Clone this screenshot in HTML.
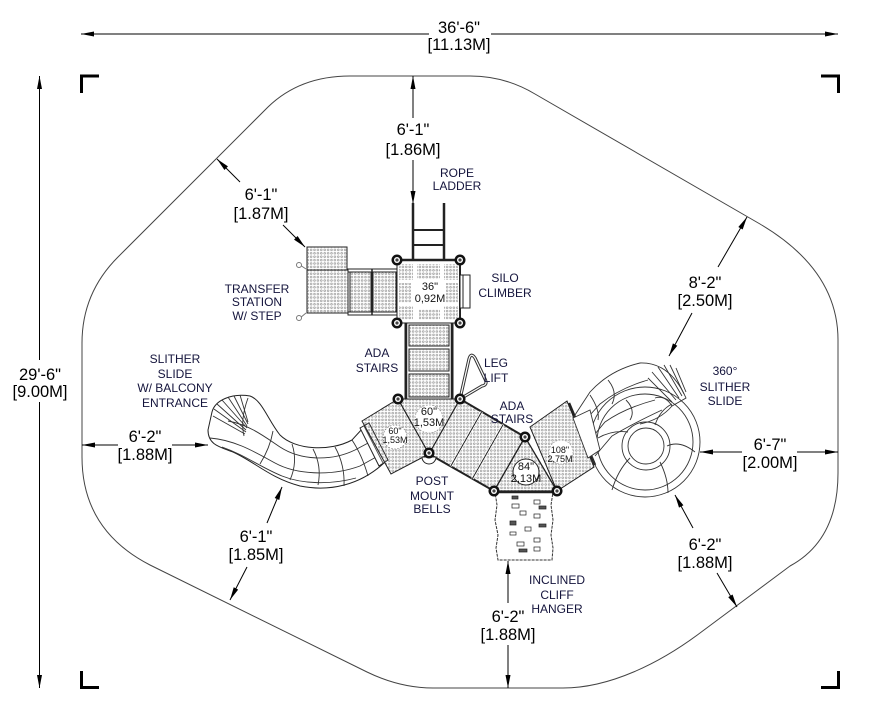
<!DOCTYPE html>
<html><head><meta charset="utf-8"><style>
html,body{margin:0;padding:0;background:#fff;}
svg{display:block;}
.d{font-family:"Liberation Sans",Arial,sans-serif;font-size:16.5px;fill:#000;text-anchor:middle;}
.l{font-family:"Liberation Sans",Arial,sans-serif;font-size:12px;fill:#14143c;text-anchor:middle;}
.s{font-family:"Liberation Sans",Arial,sans-serif;font-size:11px;fill:#111;text-anchor:middle;}
.xs{font-family:"Liberation Sans",Arial,sans-serif;font-size:9px;fill:#111;text-anchor:middle;}
</style></head><body>
<svg width="879" height="722" viewBox="0 0 879 722" xmlns="http://www.w3.org/2000/svg">
<defs>
<pattern id="pf" width="3.4" height="3.4" patternUnits="userSpaceOnUse">
<circle cx="1.7" cy="1.7" r="0.9" fill="none" stroke="#666" stroke-width="0.5"/>
</pattern>
</defs>
<rect width="879" height="722" fill="#fff"/>

<!-- boundary -->
<path d="M350,76 L470,76 Q505,76 535,94 L760,224 Q838,270 838,340 L838,473 Q838,540 790,566 L700,633 C660,663 610,688 563,688 L433,688 Q400,688 367,672 L150,565 Q82,530 82,457 L82,343 Q82,293 118,257 L268,107 Q300,76 350,76 Z" fill="none" stroke="#444" stroke-width="1"/>

<!-- corner marks -->
<g fill="none" stroke="#000" stroke-width="3">
<polyline points="81.5,93 81.5,76 99,76"/>
<polyline points="821,76 838.5,76 838.5,93"/>
<polyline points="81.5,671 81.5,687.5 99,687.5"/>
<polyline points="821,687.5 838.5,687.5 838.5,671"/>
</g>

<!-- dimension lines -->
<g stroke="#000" stroke-width="1" fill="none">
<line x1="81" y1="34" x2="429" y2="34"/><line x1="491" y1="34" x2="838" y2="34"/>
<line x1="39.5" y1="76" x2="39.5" y2="360"/><line x1="39.5" y1="402" x2="39.5" y2="688"/>
<line x1="413" y1="76" x2="413" y2="118"/><line x1="413" y1="160" x2="413" y2="204"/>
<line x1="217" y1="159" x2="240" y2="182"/><line x1="283" y1="225" x2="305" y2="247"/>
<line x1="747" y1="217" x2="718" y2="267"/><line x1="692" y1="313" x2="669" y2="356"/>
<line x1="82" y1="445" x2="118" y2="445"/><line x1="172" y1="445" x2="208" y2="445"/>
<line x1="282" y1="487" x2="267" y2="523"/><line x1="247" y1="567" x2="230" y2="600"/>
<line x1="508" y1="561" x2="508" y2="603"/><line x1="508" y1="645" x2="508" y2="688"/>
<line x1="700" y1="452" x2="742" y2="452"/><line x1="797" y1="452" x2="838" y2="452"/>
<line x1="675" y1="495" x2="693" y2="528"/><line x1="717" y1="573" x2="737" y2="607"/>
</g>
<g fill="#000">
<polygon points="81,34 94,31.5 94,36.5"/><polygon points="838,34 825,31.5 825,36.5"/>
<polygon points="39.5,76 37,89 42,89"/><polygon points="39.5,688 37,675 42,675"/>
<polygon points="413,76 410.5,89 415.5,89"/><polygon points="413,204 410.5,191 415.5,191"/>
<polygon points="217,159 227.97,166.43 224.43,169.97"/><polygon points="305,247 297.57,236.03 294.03,239.57"/>
<polygon points="747,217 742.66,229.45 738.34,226.95"/><polygon points="669,356 677.3,345.73 672.9,343.37"/>
<polygon points="82,445 95,442.5 95,447.5"/><polygon points="208,445 195,442.5 195,447.5"/>
<polygon points="282,487 279.31,499.96 274.69,498.04"/><polygon points="230,600 238.17,589.59 233.73,587.29"/>
<polygon points="508,561 505.5,574 510.5,574"/><polygon points="508,688 505.5,675 510.5,675"/>
<polygon points="700,452 713,449.5 713,454.5"/><polygon points="838,452 825,449.5 825,454.5"/>
<polygon points="675,495 683.43,505.21 679.03,507.61"/><polygon points="737,607 732.56,594.53 728.24,597.07"/>
</g>

<!-- dimension texts -->
<text class="d" x="459" y="33">36'-6"</text><text class="d" x="459" y="50">[11.13M]</text>
<text class="d" x="40" y="380">29'-6"</text><text class="d" x="40" y="397">[9.00M]</text>
<text class="d" x="413" y="135">6'-1"</text><text class="d" x="413" y="155">[1.86M]</text>
<text class="d" x="261" y="200">6'-1"</text><text class="d" x="261" y="219">[1.87M]</text>
<text class="d" x="705" y="288">8'-2"</text><text class="d" x="705" y="306">[2.50M]</text>
<text class="d" x="145" y="442">6'-2"</text><text class="d" x="145" y="460">[1.88M]</text>
<text class="d" x="256" y="542">6'-1"</text><text class="d" x="256" y="560">[1.85M]</text>
<text class="d" x="508" y="622">6'-2"</text><text class="d" x="508" y="640">[1.88M]</text>
<text class="d" x="770" y="450">6'-7"</text><text class="d" x="770" y="468">[2.00M]</text>
<text class="d" x="705" y="550">6'-2"</text><text class="d" x="705" y="568">[1.88M]</text>

<!-- ===== structures ===== -->
<g stroke="#222" stroke-width="1">
<!-- rope ladder -->
<line x1="413" y1="203" x2="413" y2="261" stroke-width="2.5"/>
<line x1="444" y1="203" x2="444" y2="261" stroke-width="2.5"/>
<line x1="413" y1="230" x2="444" y2="230" stroke-width="2"/>
<line x1="413" y1="245" x2="444" y2="245" stroke-width="2"/>

<!-- transfer station -->
<rect x="307" y="247" width="40" height="23" fill="url(#pf)"/>
<rect x="307" y="270" width="41" height="43" fill="url(#pf)"/>
<rect x="348" y="269" width="49" height="46" fill="#fff"/>
<line x1="348" y1="272" x2="397" y2="272"/>
<line x1="348" y1="312" x2="397" y2="312"/>
<rect x="350" y="272" width="21" height="40" fill="url(#pf)"/>
<rect x="373" y="272" width="23" height="40" fill="url(#pf)"/>
<line x1="372" y1="269" x2="372" y2="315" stroke-width="1.5"/>
<line x1="306" y1="269" x2="300" y2="265" stroke="#777"/>
<line x1="306" y1="313" x2="300" y2="318" stroke="#777"/>
<circle cx="299" cy="265" r="2.5" fill="#fff" stroke="#777"/>
<circle cx="299" cy="318" r="2.5" fill="#fff" stroke="#777"/>

<!-- central 36" deck -->
<path d="M401,260 L456,260 L460,264 L460,319 L456,323 L401,323 L397,319 L397,264 Z" fill="#fff"/>
<g stroke="none" fill="url(#pf)">
<rect x="399" y="264" width="14" height="16"/><rect x="417" y="264" width="23" height="15"/><rect x="444" y="264" width="14" height="16"/>
<rect x="399" y="283" width="12" height="20"/><rect x="446" y="283" width="12" height="20"/>
<rect x="399" y="306" width="14" height="14"/><rect x="419" y="309" width="21" height="11"/><rect x="444" y="306" width="14" height="14"/>
</g>
<line x1="397" y1="260" x2="460" y2="260" stroke-width="2.5"/>
<line x1="460" y1="262" x2="460" y2="322" stroke-width="2"/>
<!-- silo climber -->
<rect x="460" y="275" width="10" height="33" fill="#fff"/>
<line x1="463" y1="275" x2="463" y2="308"/>

<!-- vertical ADA stairs -->
<rect x="405" y="323" width="48" height="76" fill="#fff" stroke-width="1"/>
<line x1="406" y1="323" x2="406" y2="399" stroke-width="2.5"/>
<line x1="452" y1="323" x2="452" y2="399" stroke-width="2.5"/>
<rect x="409" y="325" width="40" height="21" fill="url(#pf)"/>
<rect x="409" y="349" width="40" height="22" fill="url(#pf)"/>
<rect x="409" y="374" width="40" height="23" fill="url(#pf)"/>

<!-- leg lift -->
<path d="M460,399 L469,359 Q471,352 475,358 L485,379 Q488,385 482,386 Z" fill="none" stroke="#333" stroke-width="3.2" stroke-linejoin="round"/>
<path d="M460,399 L469,359 Q471,352 475,358 L485,379 Q488,385 482,386 Z" fill="none" stroke="#fff" stroke-width="1.2" stroke-linejoin="round"/>

<!-- left slide -->
<path d="M212,412 C215,400 232,393 250,396 C262,400 268,420 280,435 C295,450 330,452 352,440 L363,428 L384,463 C360,485 330,492 300,486 C270,478 255,462 233,452 C220,447 208,445 208,430 Z" fill="#fff" stroke="#222"/>
<g fill="none" stroke="#333" stroke-width="0.9">
<path d="M228,421 C250,425 265,437 280,447 C300,460 330,462 355,450 L370,442"/>
<path d="M210,438 C235,440 255,452 275,463 C295,474 330,477 360,466 L378,456"/>
<path d="M222,447 C245,455 260,467 282,476 C302,484 330,485 356,478"/>
<path d="M273,431 Q270,448 260,464"/>
<path d="M292,444 Q298,462 290,480"/>
<path d="M313,449 Q322,466 318,485"/>
<path d="M335,447 Q345,465 344,486"/>
<path d="M352,440 Q362,455 368,476"/>
<path d="M248,398 Q240,420 244,436"/>
<path d="M213,416 L245,434 M214,409 L246,432 M217,404 L246,430 M222,400 L247,428 M228,397 L247,426 M234,396 L248,424 M240,395 L248,422"/>
</g>
<!-- slide connector -->
<polygon points="360,428 369,423 388,460 379,466" fill="#fff" stroke="#222"/>
<line x1="364" y1="426" x2="383" y2="463" stroke="#555"/>

<!-- left 60" deck -->
<polygon points="398,399 362,421 391,474 429,454" fill="url(#pf)" stroke="#222"/>
<circle cx="395" cy="437" r="12" fill="#fff" stroke="#777" stroke-width="0.7" stroke-dasharray="1.5,1.5"/>

<!-- center triangle -->
<polygon points="398,399 460,399 429,454" fill="url(#pf)" stroke="#222"/>
<circle cx="429" cy="419" r="14" fill="#fff" stroke="#888" stroke-width="0.6" stroke-dasharray="1.5,1.5"/>

<!-- diagonal ADA stairs -->
<polygon points="460,399 525,437 494,491 429,454" fill="url(#pf)" stroke="#222"/>
<line x1="460" y1="399" x2="525" y2="437" stroke-width="2"/>
<line x1="429" y1="454" x2="494" y2="491" stroke-width="2"/>
<line x1="481.7" y1="411.7" x2="450.7" y2="466.3" stroke="#fff" stroke-width="2.5"/>
<line x1="503.3" y1="424.3" x2="472.3" y2="478.7" stroke="#fff" stroke-width="2.5"/>
<line x1="481.7" y1="411.7" x2="450.7" y2="466.3"/>
<line x1="503.3" y1="424.3" x2="472.3" y2="478.7"/>

<!-- 84" triangle -->
<polygon points="525,437 494,491 557,491" fill="url(#pf)" stroke="#222" stroke-width="1.3"/>
<circle cx="526" cy="472" r="13" fill="#fff"/>

<!-- 108" deck -->
<polygon points="530,427 567,401 594,467 557,491" fill="url(#pf)" stroke="#222"/>
<line x1="569" y1="403" x2="595" y2="465" stroke-width="2.5"/>
<circle cx="561" cy="452" r="12" fill="#fff" stroke="#888" stroke-width="0.6" stroke-dasharray="1.5,1.5"/>

<!-- cliff hanger -->
<path d="M495,492 L553,492 L551,505 L553,520 L551,535 L553,548 L552,560 L498,560 L496,548 L498,535 L495,520 L497,505 Z" fill="#fff" stroke="#333" stroke-dasharray="3,1"/>
<line x1="494" y1="492" x2="557" y2="492" stroke-width="2.5"/>
<g fill="#555" stroke="#222" stroke-width="0.7">
<rect x="512" y="496" width="6" height="3"/><rect x="534" y="500" width="6" height="4" fill="#fff"/>
<rect x="512" y="504" width="7" height="4" fill="#fff"/><rect x="539" y="506" width="7" height="3"/>
<rect x="520" y="511" width="6" height="4" fill="#fff"/><rect x="534" y="514" width="6" height="4" fill="#fff"/>
<rect x="510" y="521" width="6" height="4"/><rect x="539" y="524" width="7" height="3"/>
<rect x="525" y="527" width="6" height="4" fill="#fff"/><rect x="510" y="532" width="6" height="3" fill="#fff"/>
<rect x="534" y="538" width="6" height="4" fill="#fff"/><rect x="517" y="542" width="7" height="4" fill="#fff"/>
<rect x="519" y="549" width="8" height="3"/><rect x="534" y="547" width="6" height="4" fill="#fff"/>
</g>

<!-- 360 slide -->
<g fill="none" stroke="#333" stroke-width="0.9">
<circle cx="645" cy="442" r="55"/>
<circle cx="645" cy="442" r="48"/>
<circle cx="646" cy="446" r="24"/>
<circle cx="646" cy="446" r="18"/>
<path d="M667,446 Q680,440 695,452"/>
<path d="M630,458 Q618,470 612,490"/>
<path d="M660,462 Q668,478 668,493"/>
<path d="M628,432 Q612,430 598,438"/>
<path d="M655,425 Q660,410 672,404"/>
<path d="M640,363 Q670,362 686,398 L672,406 Q665,395 655,398"/>
<path d="M648,378 L672,402 M652,372 L676,400 M658,367 L679,398 M664,365 L682,396 M670,365 L684,394 M676,368 L686,392"/>
<path d="M640,363 Q610,370 590,392 L573,418"/>
<path d="M648,380 Q620,388 600,404 L580,426"/>
<path d="M655,400 Q625,408 605,422 L590,440"/>
<path d="M662,410 Q632,424 612,436 L595,456"/>
<path d="M672,406 Q660,420 640,424"/>
<path d="M608,380 Q618,392 612,404"/>
<path d="M590,395 Q600,410 598,420"/>
<path d="M626,400 Q636,410 630,420"/>
</g>
<path d="M573,418 L590,410 L600,450 L588,458 Z" fill="#fff" stroke="#333" stroke-width="0.9"/>

<!-- post mount bells -->
<path d="M422,457 A7,7 0 0 0 436,457 Z" fill="#fff" stroke="#222"/>
</g>

<!-- posts -->
<g>
<g fill="#111"><circle cx="397" cy="260" r="5.5"/><circle cx="460" cy="260" r="5.5"/><circle cx="397" cy="323" r="5.5"/><circle cx="460" cy="323" r="5.5"/><circle cx="398" cy="399" r="5.5"/><circle cx="460" cy="399" r="5.5"/><circle cx="429" cy="453" r="5.5"/><circle cx="525" cy="437" r="5.5"/><circle cx="494" cy="491" r="5.5"/><circle cx="557" cy="491" r="5.5"/></g>
<g fill="#fff"><circle cx="397" cy="260" r="3"/><circle cx="460" cy="260" r="3"/><circle cx="397" cy="323" r="3"/><circle cx="460" cy="323" r="3"/><circle cx="398" cy="399" r="3"/><circle cx="460" cy="399" r="3"/><circle cx="429" cy="453" r="3"/><circle cx="525" cy="437" r="3"/><circle cx="494" cy="491" r="3"/><circle cx="557" cy="491" r="3"/></g>
<g fill="#444"><circle cx="397" cy="260" r="1.6"/><circle cx="460" cy="260" r="1.6"/><circle cx="397" cy="323" r="1.6"/><circle cx="460" cy="323" r="1.6"/><circle cx="398" cy="399" r="1.6"/><circle cx="460" cy="399" r="1.6"/><circle cx="429" cy="453" r="1.6"/><circle cx="525" cy="437" r="1.6"/><circle cx="494" cy="491" r="1.6"/><circle cx="557" cy="491" r="1.6"/></g>
</g>

<!-- inner labels -->
<text class="s" x="430" y="290">36"</text><text class="s" x="430" y="302">0,92M</text>
<text class="s" x="429" y="415">60"</text><text class="s" x="429" y="426">1,53M</text>
<text class="xs" x="395" y="434">60"</text><text class="xs" x="395" y="443">1,53M</text>
<text class="s" x="526" y="470">84"</text><text class="s" x="526" y="482">2,13M</text>
<text class="xs" x="560" y="453">108"</text><text class="xs" x="560" y="462">2,75M</text>

<!-- labels -->
<text class="l" x="457" y="177">ROPE</text><text class="l" x="457" y="190">LADDER</text>
<text class="l" x="505" y="282">SILO</text><text class="l" x="505" y="297">CLIMBER</text>
<text class="l" x="257" y="293">TRANSFER</text><text class="l" x="257" y="306">STATION</text><text class="l" x="257" y="320">W/ STEP</text>
<text class="l" x="175" y="363">SLITHER</text><text class="l" x="175" y="378">SLIDE</text><text class="l" x="175" y="392">W/ BALCONY</text><text class="l" x="175" y="407">ENTRANCE</text>
<text class="l" x="377" y="357">ADA</text><text class="l" x="377" y="372">STAIRS</text>
<text class="l" x="496" y="367">LEG</text><text class="l" x="496" y="382">LIFT</text>
<text class="l" x="512" y="410">ADA</text><text class="l" x="512" y="423">STAIRS</text>
<text class="l" x="432" y="485">POST</text><text class="l" x="432" y="500">MOUNT</text><text class="l" x="432" y="513">BELLS</text>
<text class="l" x="725" y="375">360°</text><text class="l" x="725" y="391">SLITHER</text><text class="l" x="725" y="405">SLIDE</text>
<text class="l" x="557" y="584">INCLINED</text><text class="l" x="557" y="599">CLIFF</text><text class="l" x="557" y="613">HANGER</text>
</svg>
</body></html>
